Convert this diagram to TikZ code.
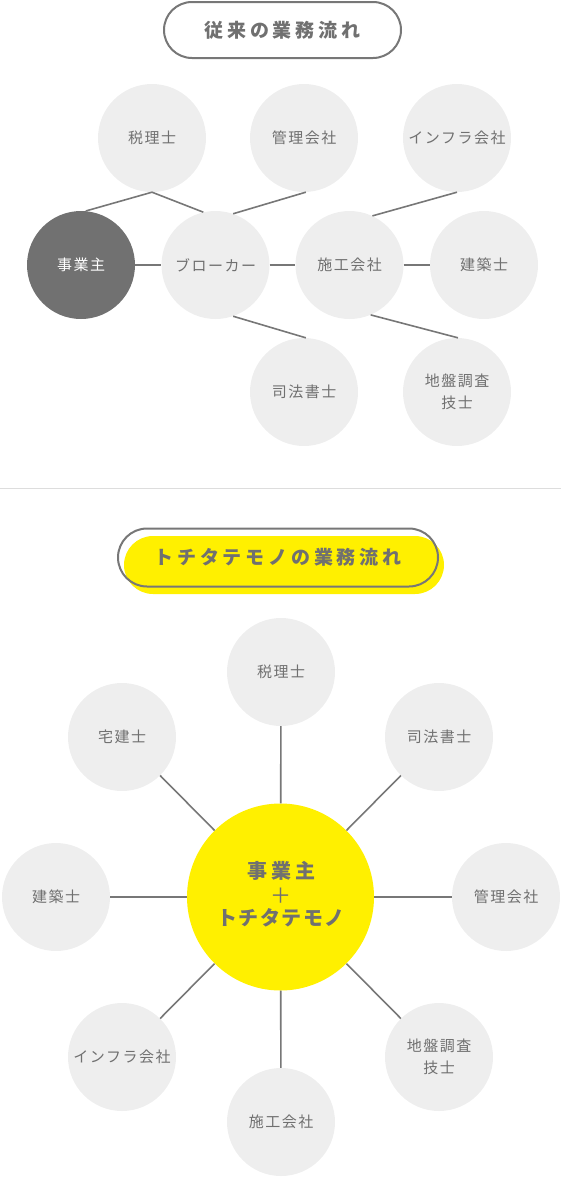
\documentclass[tikz,border=0pt]{standalone}
\usepackage{fontspec}
\newfontfamily\jp{Noto Sans CJK JP}
\newfontfamily\jpsp[LetterSpace=10]{Noto Sans CJK JP}
\newfontfamily\jpt[LetterSpace=20]{Noto Sans CJK JP}
\newfontfamily\jpa[LetterSpace=8]{Noto Sans CJK JP}
\definecolor{txt}{HTML}{707070}
\definecolor{circ}{HTML}{EEEEEE}
\definecolor{dark}{HTML}{717171}
\definecolor{ln}{HTML}{777777}
\definecolor{yel}{HTML}{FFF000}
\definecolor{divc}{HTML}{DDDDDD}
\tikzset{
  sat/.style={circle,fill=circ,minimum size=108pt,inner sep=0pt,text=txt,font=\jpsp\fontsize{15}{22}\selectfont,align=center},
  owner/.style={sat,fill=dark,text=white},
  hub/.style={circle,fill=yel,minimum size=187pt,inner sep=0pt,text=txt,align=center},
  conn/.style={draw=ln,line width=1.6pt},
  pill/.style={draw=ln,line width=2pt,rounded corners=28pt,text=txt,font=\jpt\bfseries\fontsize{19}{22}\selectfont,inner sep=0pt},
}
\begin{document}
\begin{tikzpicture}[x=1pt,y=-1pt]
\useasboundingbox (0,0) rectangle (561,1178);
% ---------- top ----------
\node[pill,minimum width=237pt,minimum height=56pt] (t1) at (282.5,30) {従来の業務流れ};
\node[sat] (zei) at (152,138) {税理士};
\node[sat] (kanri) at (304,138) {管理会社};
\node[sat] (infra) at (457,138) {インフラ会社};
\node[owner] (owner) at (81,265) {事業主};
\node[sat] (broker) at (215.5,265) {ブローカー};
\node[sat] (seko) at (349.5,265) {施工会社};
\node[sat] (kenchiku) at (484,265) {建築士};
\node[sat] (shiho) at (304,392) {司法書士};
\node[sat] (jiban) at (457,392) {地盤調査\\技士};
\draw[conn] (owner) -- (broker);
\draw[conn] (broker) -- (seko);
\draw[conn] (seko) -- (kenchiku);
\draw[conn] (owner.85) -- (zei.south) -- (broker.103);
\draw[conn] (broker.71) -- (kanri.272);
\draw[conn] (seko.65) -- (infra.270);
\draw[conn] (broker.289) -- (shiho.88);
\draw[conn] (seko.293) -- (jiban.89);
% divider
\coordinate (dl) at (0,488);
\coordinate (dr) at (561,488);
\draw[divc,line width=1pt] (dl) -- (dr);
% ---------- bottom ----------
\fill[yel,rounded corners=29pt] (124,536) rectangle (444,594);
\node[pill,rounded corners=29pt,minimum width=320pt,minimum height=58pt] (t2) at (278,557.5) {トチタテモノの業務流れ};
\node[hub] (hub) at (280.5,897) {};
\node[text=txt,font=\jpt\bfseries\fontsize{20}{22}\selectfont] (h1) at (281,871) {事業主};
\node[text=txt,font=\jp\fontsize{21}{22}\selectfont] (h2) at (280.5,896) {＋};
\node[text=txt,font=\jpa\bfseries\fontsize{20}{22}\selectfont] (h3) at (281,918) {トチタテモノ};
\node[sat] (b1) at (281,672) {税理士};
\node[sat] (b2) at (439,737) {司法書士};
\node[sat] (b3) at (506,897) {管理会社};
\node[sat] (b4) at (439,1057) {地盤調査\\技士};
\node[sat] (b5) at (281,1122) {施工会社};
\node[sat] (b6) at (122,1057) {インフラ会社};
\node[sat] (b7) at (56,897) {建築士};
\node[sat] (b8) at (122,737) {宅建士};
\foreach \n in {b1,b2,b3,b4,b5,b6,b7,b8} \draw[conn] (hub) -- (\n);
\end{tikzpicture}
\end{document}
